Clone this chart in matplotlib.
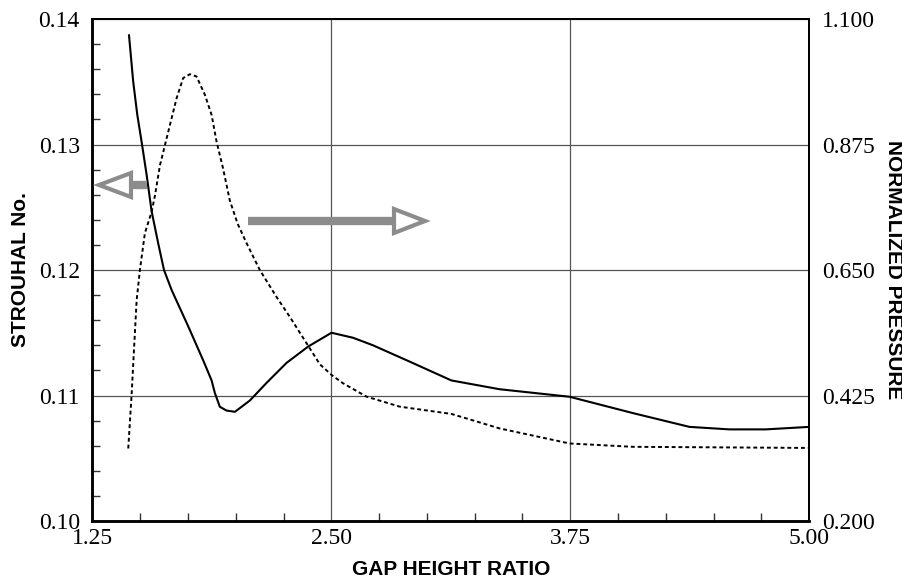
import matplotlib
matplotlib.use("Agg")
import matplotlib.pyplot as plt
from matplotlib.patches import Polygon
from matplotlib.lines import Line2D
from matplotlib.ticker import FixedLocator, MultipleLocator, FormatStrFormatter

# Strouhal number (left axis, solid)
gap_st = [1.442, 1.464, 1.485, 1.508, 1.534, 1.560, 1.595, 1.625, 1.665, 1.752,
          1.830, 1.874, 1.891, 1.917, 1.952, 1.996, 2.074, 2.161, 2.266, 2.379,
          2.501, 2.614, 2.718, 2.910, 3.128, 3.380, 3.746, 4.077, 4.373, 4.582,
          4.773, 5.000]
strouhal = [0.1387, 0.1350, 0.1324, 0.1302, 0.1276, 0.1247, 0.1221, 0.1200, 0.1184, 0.1155,
            0.1128, 0.1112, 0.1102, 0.1091, 0.1088, 0.1087, 0.1096, 0.1110, 0.1126, 0.1139,
            0.1150, 0.1146, 0.1140, 0.1127, 0.1112, 0.1105, 0.1099, 0.1086, 0.1075, 0.1073,
            0.1073, 0.1075]

# Normalized pressure (right axis, dashed)
gap_p = [1.438, 1.456, 1.468, 1.482, 1.499, 1.525, 1.560, 1.578, 1.604, 1.630,
         1.656, 1.691, 1.725, 1.760, 1.795, 1.839, 1.874, 1.900, 1.934, 1.969,
         2.010, 2.057, 2.126, 2.213, 2.283, 2.370, 2.440, 2.501, 2.561, 2.684,
         2.858, 3.128, 3.380, 3.746, 4.077, 4.995]
pressure = [0.330, 0.429, 0.507, 0.596, 0.650, 0.716, 0.754, 0.784, 0.838, 0.874,
            0.910, 0.958, 0.994, 1.001, 0.997, 0.964, 0.928, 0.880, 0.832, 0.775,
            0.733, 0.698, 0.650, 0.602, 0.566, 0.519, 0.481, 0.462, 0.447, 0.423,
            0.405, 0.392, 0.366, 0.339, 0.333, 0.331]

x_ticks = [1.25, 2.50, 3.75, 5.00]
left_ticks = [0.10, 0.11, 0.12, 0.13, 0.14]
right_ticks = [0.200, 0.425, 0.650, 0.875, 1.100]

W, H = 903, 583
serif = "Liberation Serif"
sans = "Liberation Sans"

fig = plt.figure(figsize=(W / 100, H / 100), dpi=100)
ax = fig.add_axes([92.3 / W, 1 - 521 / H, (809.3 - 92.3) / W, (521 - 19) / H])
ax2 = ax.twinx()

ax.plot(gap_st, strouhal, color="black", lw=1.5, zorder=3)
ax2.plot(gap_p, pressure, color="black", lw=1.4, linestyle=(0, (2.0, 1.5)), zorder=3)

ax.set_xlim(1.25, 5.00)
ax.set_ylim(0.10, 0.14)
ax2.set_ylim(0.200, 1.100)

ax.xaxis.set_major_locator(FixedLocator(x_ticks))
ax.xaxis.set_minor_locator(MultipleLocator(0.25))
ax.yaxis.set_major_locator(FixedLocator(left_ticks))
ax.yaxis.set_minor_locator(MultipleLocator(0.002))
ax2.yaxis.set_major_locator(FixedLocator(right_ticks))
ax.xaxis.set_major_formatter(FormatStrFormatter("%.2f"))
ax.yaxis.set_major_formatter(FormatStrFormatter("%.2f"))
ax2.yaxis.set_major_formatter(FormatStrFormatter("%.3f"))

ax.grid(True, which="major", color="#555555", lw=0.9)
ax.tick_params(which="major", length=0, pad=9, labelsize=17)
ax.tick_params(which="minor", direction="in", length=6, width=1.0, color="#333333")
ax.tick_params(axis="x", which="major", pad=5)
ax2.tick_params(which="major", length=0, pad=9, labelsize=17)
ax2.tick_params(which="minor", length=0)
for lab in ax.get_xticklabels() + ax.get_yticklabels() + ax2.get_yticklabels():
    lab.set_fontfamily(serif)

for a in (ax, ax2):
    a.spines["left"].set_linewidth(1.8)
    a.spines["bottom"].set_linewidth(1.8)
    a.spines["top"].set_linewidth(1.3)
    a.spines["right"].set_linewidth(1.3)

ax.set_xlabel("GAP HEIGHT RATIO", fontfamily=sans, fontweight="bold", fontsize=15, labelpad=8)
ax.set_ylabel("STROUHAL No.", fontfamily=sans, fontweight="bold", fontsize=15, labelpad=6)
ax2.set_ylabel("NORMALIZED PRESSURE", fontfamily=sans, fontweight="bold", fontsize=15,
               rotation=270, labelpad=20)


def px(x, y):
    return (x / W, 1 - y / H)


gray = "#8c8c8c"
# left-pointing arrow (toward Strouhal axis)
fig.add_artist(Line2D([px(131, 0)[0], px(147, 0)[0]], [px(0, 185)[1]] * 2,
                      color=gray, lw=6, solid_capstyle="butt"))
fig.add_artist(Polygon([px(99, 185), px(131, 173), px(131, 197)], closed=True,
                       fill=False, edgecolor=gray, lw=3, transform=fig.transFigure))
# right-pointing arrow (toward pressure axis)
fig.add_artist(Line2D([px(248, 0)[0], px(394, 0)[0]], [px(0, 221)[1]] * 2,
                      color=gray, lw=6, solid_capstyle="butt"))
fig.add_artist(Polygon([px(394, 209), px(394, 233), px(425, 221)], closed=True,
                       fill=False, edgecolor=gray, lw=3, transform=fig.transFigure))

fig.savefig("out.png", dpi=100)
